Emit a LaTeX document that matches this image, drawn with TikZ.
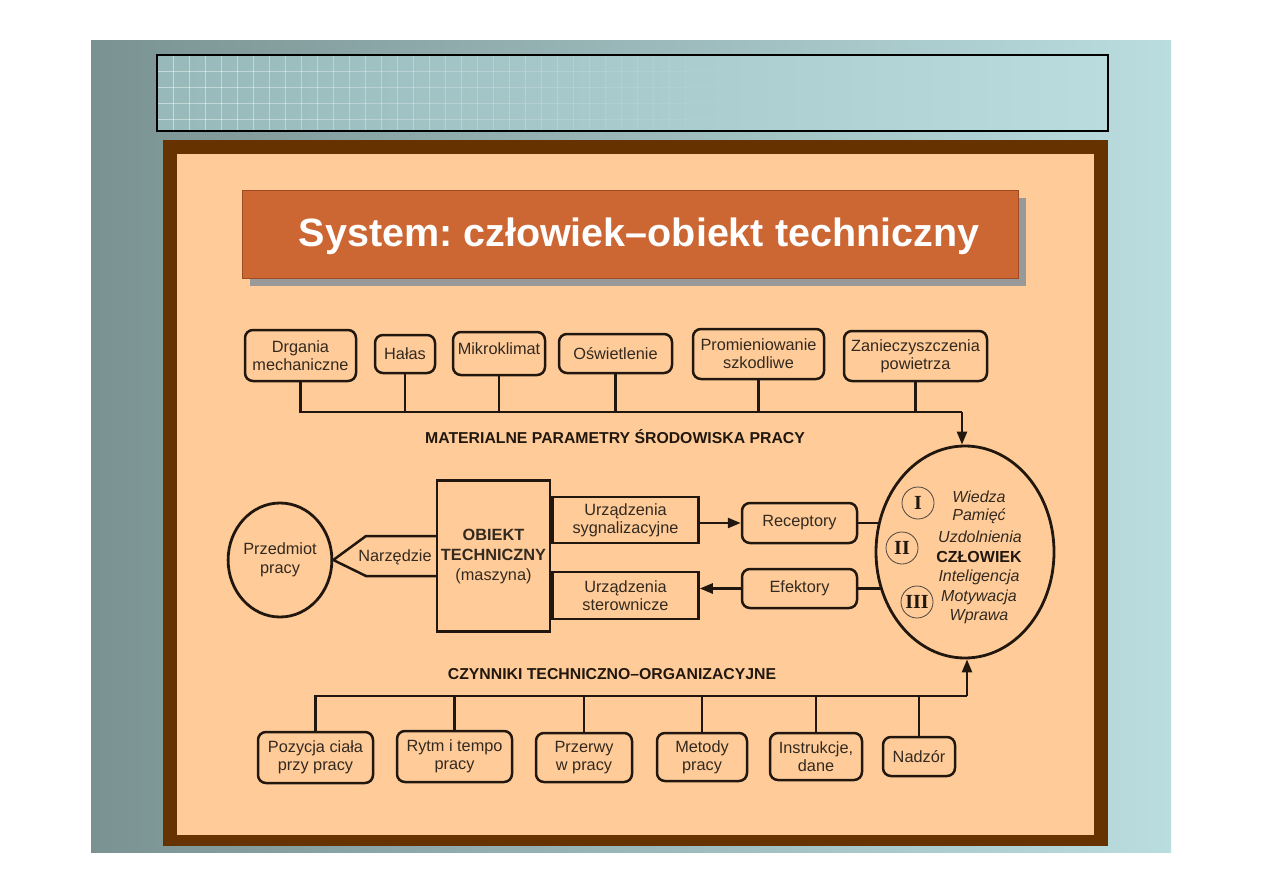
\documentclass[tikz,border=0pt]{standalone}
\usepackage{fontspec}
\setmainfont{Liberation Sans}
\newfontfamily\numfont{Liberation Serif}
\usetikzlibrary{shapes.geometric,arrows.meta}
\frenchspacing
\definecolor{bgL}{HTML}{7A9292}
\definecolor{bgR}{HTML}{BADDE0}
\definecolor{bandL}{HTML}{98B9BA}
\definecolor{bandR}{HTML}{BADCDF}
\definecolor{framec}{HTML}{663300}
\definecolor{peach}{HTML}{FFCC99}
\definecolor{titlebg}{HTML}{CC6633}
\definecolor{titleedge}{HTML}{9E4A22}
\definecolor{ink}{HTML}{21170F}
\definecolor{txt}{HTML}{33291F}
\begin{document}
\begin{tikzpicture}[x=1pt,y=-1pt,
  box/.style={draw=ink, line width=2.5pt, rounded corners=8pt, inner sep=0pt,
    align=center, text=txt, font=\fontsize{16.3}{18}\selectfont},
  sqbox/.style={draw=ink, line width=2.5pt, inner sep=0pt, align=center,
    text=txt, font=\fontsize{16.3}{18}\selectfont},
  conn/.style={draw=ink, line width=2.5pt},
  arr/.style={conn, -{Triangle[length=13pt,width=10pt]}},
  lbl/.style={text=ink, font=\bfseries\fontsize{15.8}{17}\selectfont},
  itx/.style={text=txt, font=\itshape\fontsize{16}{17}\selectfont},
  roman/.style={circle, draw=ink!80, line width=0.8pt, minimum size=32pt,
    inner sep=0pt, text=ink, font=\numfont\bfseries\fontsize{20}{20}\selectfont}]
\useasboundingbox (0,0) rectangle (1263,893);
\fill[white] (0,0) rectangle (1263,893);
% slide background
\shade[left color=bgL, right color=bgR] (91,41) rectangle (1171,852);
% top band with grid
\shade[left color=bandL, right color=bandR] (157,55) rectangle (1108,131);
\foreach \i in {0,...,36} {
  \pgfmathsetmacro\op{0.45*(1-\i/37)}
  \draw[white, opacity=\op, line width=0.8pt] (173+16*\i,55) -- (173+16*\i,131);
  \foreach \j in {0,...,3} {
    \draw[white, opacity=\op, line width=0.8pt] (157+16*\i,71+16*\j) -- (173+16*\i,71+16*\j);
  }
}
\draw[black, line width=1.5pt] (157,55) rectangle (1108,131);
% brown frame
\fill[framec] (163,140) rectangle (1108,846);
\fill[peach] (177,154) rectangle (1094,835);
% title
\fill[black!40] (250,198) rectangle (1026,286);
\node[draw=titleedge, line width=0.8pt, fill=titlebg, minimum width=776pt, minimum height=88pt,
  inner sep=0pt] (title) at (630,234) {};
\node[text=white, font=\bfseries\fontsize{39.5}{41}\selectfont] (titletext) at (639,236)
  {System: człowiek–obiekt techniczny};
% top boxes
\node[box, minimum width=111pt, minimum height=51pt] (drg) at (300.5,355.5) {Drgania\\mechaniczne};
\node[box, minimum width=60pt, minimum height=38pt] (hal) at (405,354) {Hałas};
\node[box, minimum width=92pt, minimum height=43pt, text depth=10pt] (mik) at (499,353.5) {Mikroklimat};
\node[box, minimum width=113pt, minimum height=39pt] (osw) at (615.5,353.5) {Oświetlenie};
\node[box, minimum width=131pt, minimum height=50pt] (pro) at (758.5,354) {Promieniowanie\\szkodliwe};
\node[box, minimum width=143pt, minimum height=50pt] (zan) at (915.5,356) {Zanieczyszczenia\\powietrza};
% człowiek ellipse
\node[ellipse, draw=ink, line width=2.8pt, minimum width=178pt, minimum height=212pt, inner sep=0pt] (czl) at (965,552) {};
\coordinate (tb) at (962,412);
\draw[conn] (drg.south) |- (tb);
\foreach \n in {hal,mik,osw,pro,zan} { \draw[conn] (\n.south) -- (\n.south |- tb); }
\draw[arr] (tb) -- (tb |- czl.north);
\node[lbl] (matlbl) at (615,437) {MATERIALNE PARAMETRY ŚRODOWISKA PRACY};
% middle row
\node[ellipse, draw=ink, line width=2.8pt, minimum width=88pt, minimum height=114pt, inner sep=0pt,
  align=center, text=txt, font=\fontsize{16.3}{19}\selectfont] (prz) at (280,560) {Przedmiot\\pracy};
\node[sqbox, minimum width=113pt, minimum height=151pt, font=\fontsize{16.3}{20}\selectfont] (obj) at (493.5,556)
  {\textbf{OBIEKT}\\\textbf{TECHNICZNY}\\(maszyna)};
\coordinate (nu) at (366,536);
\coordinate (nd) at (366,576);
\draw[conn, line join=miter] (obj.west |- nu) -- (nu) -- (prz.east) -- (nd) -- (obj.west |- nd);
\node[text=txt, font=\fontsize{16.3}{18}\selectfont] (narz) at (395,557) {Narzędzie};
\node[sqbox, minimum width=146pt, minimum height=46pt, anchor=west] (syg) at (obj.east |- 0,520) {Urządzenia\\sygnalizacyjne};
\node[sqbox, minimum width=146pt, minimum height=47pt, anchor=west] (ste) at (obj.east |- 0,595.5) {Urządzenia\\sterownicze};
\node[box, minimum width=115pt, minimum height=40pt] (rec) at (799.5,523) {Receptory};
\node[box, minimum width=115pt, minimum height=39pt] (efe) at (799.5,588.5) {Efektory};
\draw[arr] (syg.east |- rec.west) -- (rec.west);
\draw[arr] (efe.west) -- (ste.east |- efe.west);
\coordinate (cr) at (880,523);
\coordinate (ce) at (881,588.5);
\draw[conn] (rec.east) -- (cr);
\draw[conn] (efe.east) -- (ce);
% inside człowiek
\node[roman] (r1) at (918,503) {I};
\node[roman] (r2) at (902,548) {II};
\node[roman] (r3) at (917,602) {III};
\node[itx] (t1) at (979,497) {Wiedza};
\node[itx] (t2) at (979,516) {Pamięć};
\node[itx] (t3) at (980,537) {Uzdolnienia};
\node[text=ink, font=\bfseries\fontsize{16}{17}\selectfont] (t4) at (979,557) {CZŁOWIEK};
\node[itx] (t5) at (979,577) {Inteligencja};
\node[itx] (t6) at (979,597) {Motywacja};
\node[itx] (t7) at (979,617) {Wprawa};
% bottom
\node[lbl] (czlbl) at (612,674) {CZYNNIKI TECHNICZNO–ORGANIZACYJNE};
\node[box, minimum width=115pt, minimum height=51pt] (poz) at (315.5,757.5) {Pozycja ciała\\przy pracy};
\node[box, minimum width=115pt, minimum height=51pt] (ryt) at (454.5,756.5) {Rytm i tempo\\pracy};
\node[box, minimum width=96pt, minimum height=49pt] (prw) at (584,757.5) {Przerwy\\w pracy};
\node[box, minimum width=90pt, minimum height=48pt] (met) at (702,757) {Metody\\pracy};
\node[box, minimum width=92pt, minimum height=47pt] (ins) at (816,756.5) {Instrukcje,\\dane};
\node[box, minimum width=72pt, minimum height=39pt] (nad) at (919,756.5) {Nadzór};
\coordinate (bb) at (967,696);
\draw[conn] (poz.north) |- (bb);
\foreach \n in {ryt,prw,met,ins,nad} { \draw[conn] (\n.north) -- (\n.north |- bb); }
\draw[arr] (bb) -- (bb |- czl.south);
\end{tikzpicture}
\end{document}
